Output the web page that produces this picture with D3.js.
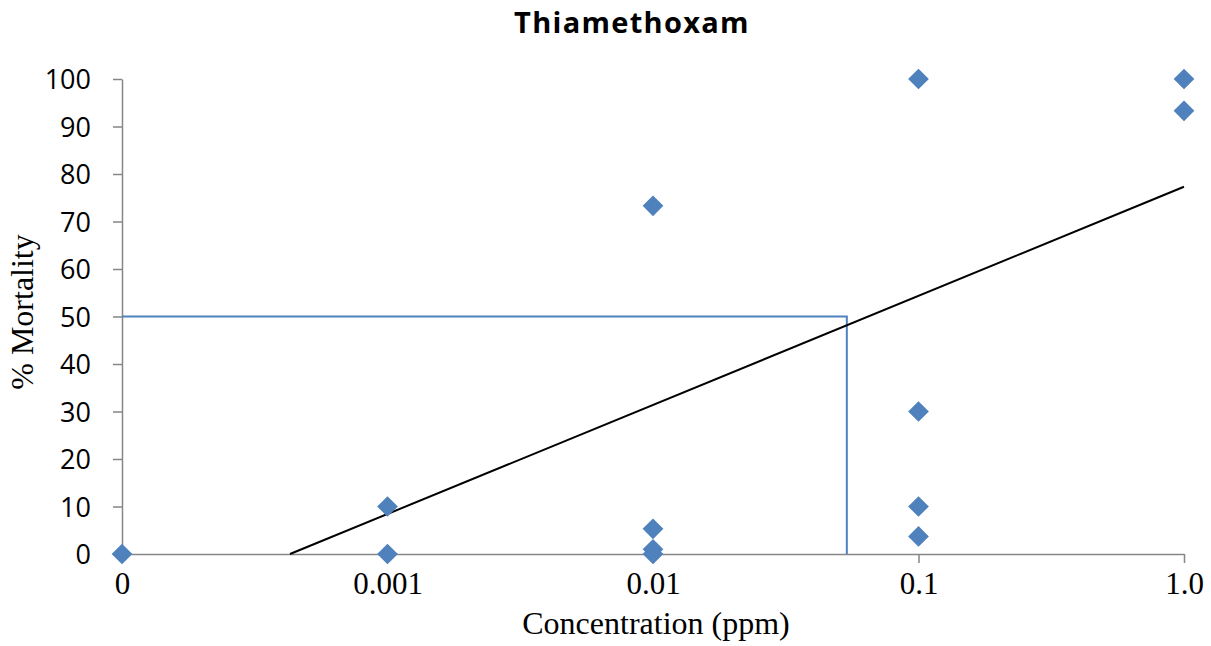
<!DOCTYPE html>
<html>
<head>
<meta charset="utf-8">
<script src="https://cdn.jsdelivr.net/npm/d3@7"></script>
<style>
  html, body { margin: 0; padding: 0; background: #fff; }
  svg { display: block; }
</style>
</head>
<body>
<svg id="chart" width="1211" height="646"></svg>
<script>
// Concentration categories (evenly spaced on the axis)
const concLabels = ["0", "0.001", "0.01", "0.1", "1.0"];
// Observed mortality (%) — category index of each observation and its value
const obsIndex = [0, 1, 1, 2, 2, 2, 2, 3, 3, 3, 3, 4, 4];
const obsMortality = [0, 10, 0, 73.3, 5.3, 1, 0, 100, 30, 10, 3.7, 100, 93.3];
// Y axis ticks
const yTicks = [0, 10, 20, 30, 40, 50, 60, 70, 80, 90, 100];
// Linear trend (mortality vs. category position)
const trendSlope = 22.96;
const trendIntercept = -14.53;
// LC50 reading: 50 % mortality at this category position
const lc50Mortality = 50;
const lc50Position = 2.73;

const svg = d3.select("#chart");
const blue = "#4F81BD";
const axisGrey = "#868686";
const sans = "'Open Sans', sans-serif";
const serif = "'Liberation Serif', 'Times New Roman', serif";

const x = d3.scaleLinear().domain([0, concLabels.length - 1]).range([122, 1184]);
const y = d3.scaleLinear().domain([0, 100]).range([554, 79]);

// Title
svg.append("text")
  .attr("x", 632).attr("y", 33)
  .attr("text-anchor", "middle")
  .style("font-family", sans)
  .style("font-weight", "bold")
  .style("font-size", "29px")
  .style("letter-spacing", "1.3px")
  .text("Thiamethoxam");

// Y axis
const yAxis = svg.append("g")
  .attr("transform", `translate(${x(0)},0)`)
  .call(d3.axisLeft(y).tickValues(yTicks).tickSize(9).tickPadding(22).tickSizeOuter(0));
yAxis.select(".domain").attr("stroke", axisGrey).attr("stroke-width", 1.5);
yAxis.selectAll(".tick line").attr("stroke", axisGrey).attr("stroke-width", 1.5);
yAxis.selectAll(".tick text")
  .attr("fill", "#000")
  .style("font-family", sans)
  .style("font-size", "27px")
  .attr("dy", "0.36em");

// X axis
const xAxis = svg.append("g")
  .attr("transform", `translate(0,${y(0)})`)
  .call(d3.axisBottom(x).tickValues(d3.range(concLabels.length))
    .tickFormat(i => concLabels[i]).tickSize(9).tickPadding(9).tickSizeOuter(0));
xAxis.select(".domain").attr("stroke", axisGrey).attr("stroke-width", 1.5);
xAxis.selectAll(".tick line").attr("stroke", axisGrey).attr("stroke-width", 1.5);
xAxis.selectAll(".tick text")
  .attr("fill", "#000")
  .style("font-family", serif)
  .style("font-size", "31px")
  .attr("dy", "0.71em");

// Axis titles
svg.append("text")
  .attr("x", 656).attr("y", 634)
  .attr("text-anchor", "middle")
  .style("font-family", serif)
  .style("font-size", "32px")
  .text("Concentration (ppm)");

svg.append("text")
  .attr("transform", "translate(33,312) rotate(-90)")
  .attr("text-anchor", "middle")
  .style("font-family", serif)
  .style("font-size", "32px")
  .text("% Mortality");

// LC50 guide lines
svg.append("path")
  .attr("d", d3.line()([
    [x(0), y(lc50Mortality)],
    [x(lc50Position), y(lc50Mortality)],
    [x(lc50Position), y(0)]
  ]))
  .attr("fill", "none")
  .attr("stroke", blue)
  .attr("stroke-width", 2);

// Trend line, starting where it meets 0 %
const trendStart = -trendIntercept / trendSlope;
const trendEnd = concLabels.length - 1;
svg.append("line")
  .attr("x1", x(trendStart)).attr("y1", y(trendSlope * trendStart + trendIntercept))
  .attr("x2", x(trendEnd)).attr("y2", y(trendSlope * trendEnd + trendIntercept))
  .attr("stroke", "#000")
  .attr("stroke-width", 2);

// Observation markers (diamonds)
const diamond = d3.symbol().type(d3.symbolSquare).size(215);
svg.append("g")
  .selectAll("path")
  .data(obsIndex.map((xi, k) => ({ xi, v: obsMortality[k] })))
  .join("path")
  .attr("d", diamond)
  .attr("transform", d => `translate(${x(d.xi)},${y(d.v)}) rotate(45)`)
  .attr("fill", blue);
</script>
</body>
</html>
